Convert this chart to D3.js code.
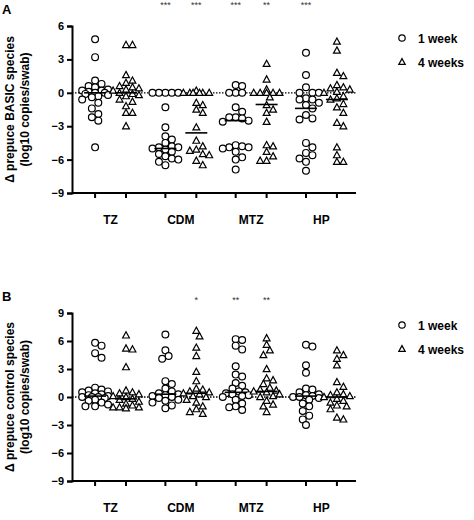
<!DOCTYPE html>
<html><head><meta charset="utf-8">
<script src="https://cdn.jsdelivr.net/npm/d3@7"></script>
<style>body{margin:0;background:#fff}svg{font-family:"Liberation Sans",Arial,sans-serif;font-weight:bold}</style>
</head><body><div id="chart"></div>
<script>
// categories and series
var drugs = ["TZ", "CDM", "MTZ", "HP"];
var series = ["1 week", "4 weeks"];

// panel A: change in BASIC species, one array per drug/time
var basic1w = [
  [4.8,3.2,1.1,0.8,0.6,0.5,0.3,0.2,0.2,0.1,0,0,-0.1,-0.2,-0.3,-0.4,-0.6,-0.9,-1.4,-1.9,-2.2,-2.5,-4.9],
  [0,0,0,0,0,-1.3,-3.1,-3.9,-4.2,-4.5,-4.8,-4.9,-4.9,-5.0,-5.1,-5.3,-5.5,-5.7,-5.9,-6.0,-6.2,-6.5],
  [0.7,0.6,0,0,0,-1.3,-1.7,-2.2,-2.2,-2.3,-2.5,-2.6,-4.7,-4.8,-4.9,-4.9,-5.0,-5.3,-5.8,-6.0,-6.9],
  [3.6,1.6,0.5,0,0,0,-0.5,-0.6,-0.6,-0.9,-1.1,-1.4,-2.0,-2.3,-2.4,-4.5,-4.9,-5.4,-5.6,-5.9,-6.2,-7.0]
];
var basic4w = [
  [4.3,4.3,1.6,1.1,0.9,0.6,0.5,0.4,0.3,0.2,0,-0.1,-0.2,-0.3,-0.6,-0.8,-1.2,-1.8,-1.8,-3.0],
  [0.2,0,0,0,0,0,0,-0.9,-1.1,-1.5,-1.8,-3.1,-4.3,-4.8,-5.1,-5.2,-5.5,-5.6,-6.1,-6.5],
  [2.6,1.2,0.3,0,0,0,0,0,-0.4,-1.1,-1.5,-1.8,-2.6,-4.7,-4.8,-5.3,-5.7,-6.1,-6.1],
  [4.6,3.8,1.8,1.5,0.7,0.5,0.4,0.3,0.1,0,-0.3,-0.5,-0.6,-1.0,-1.3,-1.8,-2.7,-3.0,-4.9,-5.6,-6.2,-6.2]
];
var basicMedian1w = [0, -5.0, -2.5, -1.4];
var basicMedian4w = [0, -3.6, -1.05, -0.6];
var basicStars1w = ["", "***", "***", "***"];
var basicStars4w = ["", "***", "**", ""];

// panel B: change in control species
var ctrl1w = [
  [5.8,5.5,4.7,4.2,1.0,0.8,0.7,0.6,0.5,0.4,0.3,0.2,0.1,0,0,0,-0.1,-0.3,-0.4,-0.6,-0.8,-1.0,-1.0],
  [6.7,5.0,4.4,4.1,1.7,1.4,0.9,0.6,0.4,0.3,0.2,0.1,0,-0.1,-0.3,-0.4,-0.6,-0.9,-1.2],
  [6.2,6.1,5.5,5.1,3.3,2.4,2.2,1.5,1.2,0.9,0.6,0.5,0.4,0.3,0.2,0.1,0,-0.3,-0.7,-1.0,-1.1,-1.4],
  [5.6,5.4,3.4,2.6,0.9,0.8,0.5,0.3,0.2,0.1,0,0,-0.1,-0.3,-0.7,-1.0,-1.5,-2.0,-2.4,-3.0]
];
var ctrl4w = [
  [6.6,5.2,5.1,3.2,0.7,0.5,0.4,0.3,0.1,0,-0.2,-0.3,-0.5,-0.7,-0.9,-1.1,-1.1,-1.1,-1.2],
  [7.1,6.5,5.3,4.4,2.7,1.7,0.9,0.8,0.6,0.5,0.4,0.3,0.1,0,-0.3,-0.6,-1.0,-1.3,-1.6,-1.8],
  [6.3,5.6,5.0,4.5,3.0,2.0,1.8,1.4,1.0,0.8,0.7,0.6,0.5,0.3,0.1,0,-0.4,-0.8,-1.0,-1.6],
  [5.0,4.5,4.1,3.4,1.6,1.1,0.5,0.3,0.2,0.1,0,-0.2,-0.4,-0.6,-0.9,-1.0,-1.3,-2.2,-2.4]
];
var ctrlMedian1w = [0.1, 0.3, 0.5, 0.1];
var ctrlMedian4w = [-0.2, 0.4, 0.6, 0];
var ctrlStars1w = ["", "", "**", ""];
var ctrlStars4w = ["", "*", "**", ""];

var yTicksA = [-9, -6, -3, 0, 3, 6];
var yTicksB = [-9, -6, -3, 0, 3, 6, 9];

var W = 474, H = 520;
var svg = d3.select("#chart").append("svg").attr("width", W).attr("height", H);

// beeswarm limited to a narrow band; when crowded, take the least overlapping slot
function swarm(vals, y, r) {
    var placed = [];
    vals.slice().sort(function(a, b){ return b - a; }).forEach(function(v) {
        var py = y(v), best = null, bestD = -1;
        for (var k = 0; k < 9; k++) {
            var dx = (k % 2 ? 1 : -1) * Math.ceil(k / 2) * r * 0.95;
            var minD = Infinity;
            placed.forEach(function(p) {
                var ddx = p.dx - dx, ddy = p.y - py;
                minD = Math.min(minD, Math.sqrt(ddx * ddx + ddy * ddy));
            });
            if (minD >= 2 * r * 0.95) { best = dx; break; }
            if (minD > bestD) { bestD = minD; best = dx; }
        }
        placed.push({dx: best, y: py});
    });
    return placed;
}

function panel(cfg) {
    var g = svg.append("g");
    var x0 = 72, x1 = 356;
    var y = d3.scaleLinear().domain(cfg.domain).range([cfg.bottom, cfg.top]);
    var x = d3.scaleBand().domain(drugs).range([x0 + 2, x1 + 2]).paddingInner(0.12).paddingOuter(0.08);
    var sub = d3.scalePoint().domain(series).range([0, x.bandwidth()]).padding(0.5);

    g.append("text").attr("x", 2).attr("y", cfg.top - 12).attr("font-size", 13).text(cfg.letter);

    var ya = g.append("g").attr("transform", "translate(" + x0 + ",0)")
        .call(d3.axisLeft(y).tickValues(cfg.ticks).tickSize(5).tickFormat(d3.format("d")));
    ya.select(".domain").attr("stroke-width", 2);
    ya.selectAll(".tick line").attr("stroke-width", 2);
    ya.selectAll("text").attr("font-size", 11).attr("font-weight", "bold").attr("font-family", "Liberation Sans, Arial");

    g.append("line").attr("x1", x0).attr("x2", x1).attr("y1", cfg.bottom).attr("y2", cfg.bottom)
        .attr("stroke", "#000").attr("stroke-width", 2);
    drugs.forEach(function(d) {
        series.forEach(function(s) {
            var cx = x(d) + sub(s);
            g.append("line").attr("x1", cx).attr("x2", cx).attr("y1", cfg.bottom).attr("y2", cfg.bottom + 5)
                .attr("stroke", "#000").attr("stroke-width", 2);
        });
        g.append("text").attr("x", x(d) + x.bandwidth() / 2).attr("y", cfg.bottom + 31)
            .attr("text-anchor", "middle").attr("font-size", 12).text(d);
    });

    g.append("line").attr("x1", x0).attr("x2", x1).attr("y1", y(0)).attr("y2", y(0))
        .attr("stroke", "#000").attr("stroke-width", 1.3).attr("stroke-dasharray", "1.5,1.5");

    var r = 3.4;
    var sets = [[cfg.d1, cfg.m1, cfg.s1, "circle"], [cfg.d4, cfg.m4, cfg.s4, "tri"]];
    sets.forEach(function(set, si) {
        drugs.forEach(function(d, i) {
            var cx = x(d) + sub(series[si]);
            swarm(set[0][i], y, r).forEach(function(p) {
                if (set[3] == "circle") {
                    g.append("circle").attr("cx", cx + p.dx).attr("cy", p.y).attr("r", r)
                        .attr("fill", "#fff").attr("stroke", "#000").attr("stroke-width", 1.2);
                } else {
                    g.append("path").attr("transform", "translate(" + (cx + p.dx) + "," + p.y + ")")
                        .attr("d", "M0,-3.6L3.4,2.6L-3.4,2.6Z")
                        .attr("fill", "#fff").attr("stroke", "#000").attr("stroke-width", 1.2);
                }
            });
            g.append("line").attr("x1", cx - 11).attr("x2", cx + 11)
                .attr("y1", y(set[1][i])).attr("y2", y(set[1][i]))
                .attr("stroke", "#000").attr("stroke-width", 1.6);
            if (set[2][i]) {
                g.append("text").attr("x", cx).attr("y", cfg.starY).attr("text-anchor", "middle")
                    .attr("font-size", 9).attr("font-weight", "normal").attr("fill", "#333").text(set[2][i]);
            }
        });
    });

    var my = (cfg.top + cfg.bottom) / 2;
    var lab = g.append("text").attr("transform", "translate(14," + my + ") rotate(-90)")
        .attr("text-anchor", "middle").attr("font-size", 12);
    lab.append("tspan").attr("x", 0).attr("dy", 0).text(cfg.label);
    lab.append("tspan").attr("x", 0).attr("dy", 15).text("(log10 copies/swab)");

    var ly = cfg.top + 12;
    g.append("circle").attr("cx", 402).attr("cy", ly).attr("r", 3.2)
        .attr("fill", "#fff").attr("stroke", "#000").attr("stroke-width", 1.2);
    g.append("path").attr("transform", "translate(402," + (ly + 24) + ")").attr("d", "M0,-3.4L3.2,2.4L-3.2,2.4Z")
        .attr("fill", "#fff").attr("stroke", "#000").attr("stroke-width", 1.2);
    g.append("text").attr("x", 418).attr("y", ly + 4.5).attr("font-size", 12).text(series[0]);
    g.append("text").attr("x", 418).attr("y", ly + 28.5).attr("font-size", 12).text(series[1]);
}

panel({letter: "A", domain: [-9, 6], ticks: yTicksA, top: 26, bottom: 193, starY: 8,
       d1: basic1w, d4: basic4w, m1: basicMedian1w, m4: basicMedian4w, s1: basicStars1w, s4: basicStars4w,
       label: "\u0394 prepuce BASIC species"});
panel({letter: "B", domain: [-9, 9], ticks: yTicksB, top: 313, bottom: 481, starY: 303,
       d1: ctrl1w, d4: ctrl4w, m1: ctrlMedian1w, m4: ctrlMedian4w, s1: ctrlStars1w, s4: ctrlStars4w,
       label: "\u0394 prepuce control species"});
</script></body></html>
